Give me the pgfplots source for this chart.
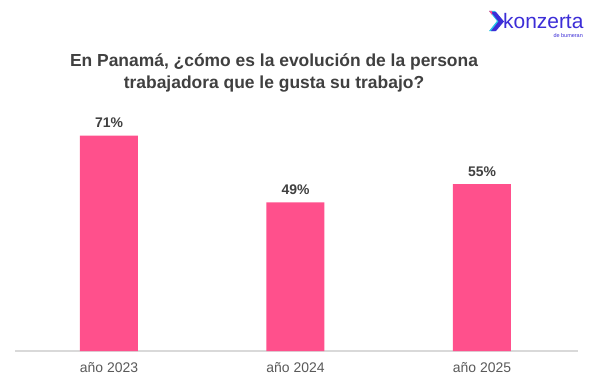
\documentclass[border=0pt]{standalone}
\usepackage{pgfplots}
\pgfplotsset{compat=1.18}
\usepackage{fontspec}
\setmainfont{Liberation Sans}
\definecolor{barpink}{RGB}{255,80,140}
\definecolor{titlegray}{RGB}{64,64,64}
\definecolor{tickgray}{RGB}{89,89,89}
\definecolor{axisgray}{RGB}{217,217,217}
\definecolor{kblue}{RGB}{60,45,215}
\definecolor{kcyan}{RGB}{40,200,230}
\begin{document}
\begin{tikzpicture}[x=1bp,y=1bp]
\path[use as bounding box,fill=white] (0,0) rectangle (600,383);
\begin{axis}[
  at={(15bp,32bp)}, anchor=south west,
  scale only axis, width=563bp, height=242.8bp,
  xmin=-0.504, xmax=2.515, ymin=0, ymax=80,
  axis x line*=bottom, axis y line=none,
  x axis line style={draw=axisgray, line width=1.2pt, -},
  ytick=\empty,
  xtick={0,1,2}, xticklabels={año 2023,año 2024,año 2025},
  major tick length=0pt,
  xticklabel style={font=\fontsize{14}{16}\selectfont, text=tickgray, yshift=-8bp},
  ybar, bar width=58bp,
  /pgf/number format/assume math mode=true,
  nodes near coords={\pgfmathprintnumber{\pgfplotspointmeta}\%},
  nodes near coords style={font=\bfseries\fontsize{14}{16}\selectfont, text=titlegray, yshift=4bp},
  clip=false,
]
\addplot[fill=barpink, draw=none] coordinates {(0,71) (1,49) (2,55)};
\end{axis}
\node[font=\bfseries\fontsize{17.5}{22}\selectfont, text=titlegray, align=center] at (274,310) {En Panamá, ¿cómo es la evolución de la persona\\trabajadora que le gusta su trabajo?};
% logo
\fill[kcyan] (489,372) -- (495,372) -- (503,362) -- (495,352) -- (489,352) -- (497,362) -- cycle;
\fill[kblue] (491,371) -- (496,371) -- (504,361.5) -- (496,352) -- (491,352) -- (498.5,361.5) -- cycle;
\fill[barpink] (489,372) -- (492,372) -- (492,368) -- cycle;
\node[anchor=west, font=\fontsize{21}{22}\selectfont, text=kblue, inner sep=0pt] at (503,362) {konzerta};
\node[anchor=east, font=\fontsize{5.5}{6}\selectfont, text=kblue, inner sep=0pt] at (583,347) {de bumeran};
\end{tikzpicture}
\end{document}
